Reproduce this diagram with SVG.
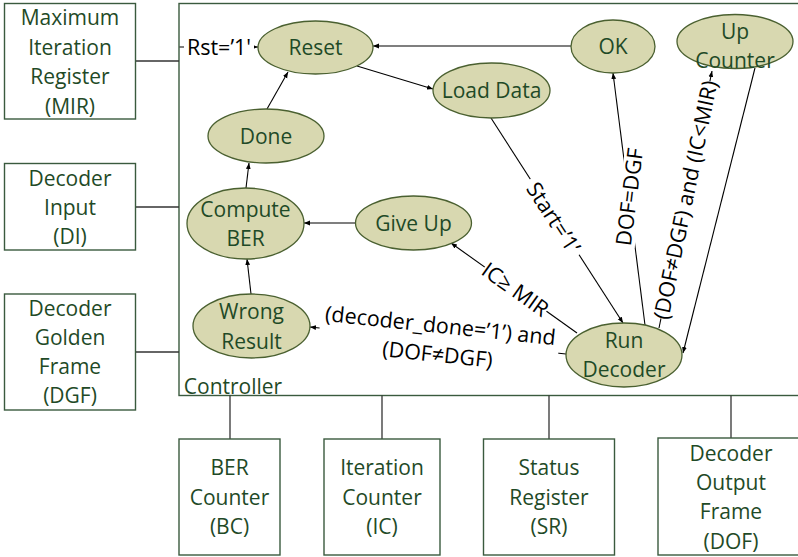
<svg xmlns="http://www.w3.org/2000/svg" width="798" height="557" viewBox="0 0 798 557">
<defs>
<marker id="arr" viewBox="0 0 10 10" refX="10" refY="5" markerWidth="6" markerHeight="6" orient="auto" markerUnits="userSpaceOnUse">
<path d="M0,1 L10,5 L0,9 z" fill="#000"/>
</marker>
<style>
.box{fill:#fff;stroke:#3a5a3e;stroke-width:1.4}
.st{fill:#d8d8b0;stroke:#4a6030;stroke-width:1.3}
.t{font-family:"Open Sans","Liberation Sans",sans-serif;font-size:21px;fill:#1f4a27;text-anchor:middle}
.lb{font-family:"Open Sans","Liberation Sans",sans-serif;font-size:21.5px;fill:#000;text-anchor:middle}
.wire{stroke:#333;stroke-width:1.3;fill:none}
.edge{stroke:#000;stroke-width:1.1;fill:none;marker-end:url(#arr)}
.bg{fill:#fff}
</style>
</defs>
<rect width="798" height="557" fill="#fff"/>

<g id="controller">
<rect class="box" x="179" y="3.5" width="640" height="392"/>
<text class="t" x="233" y="394">Controller</text>
</g>

<g id="connectors">
<line class="wire" x1="135" y1="61" x2="179" y2="61"/>
<line class="wire" x1="135" y1="207" x2="179" y2="207"/>
<line class="wire" x1="135" y1="352" x2="179" y2="352"/>
<line class="wire" x1="230" y1="395.5" x2="230" y2="439"/>
<line class="wire" x1="382" y1="395.5" x2="382" y2="439"/>
<line class="wire" x1="549" y1="395.5" x2="549" y2="439"/>
<line class="wire" x1="731" y1="395.5" x2="731" y2="438"/>

<line class="edge" x1="179.5" y1="47" x2="258" y2="47"/>
<line class="edge" x1="571" y1="46" x2="373" y2="46"/>
<line class="edge" x1="357" y1="66" x2="433" y2="89"/>
<line class="edge" x1="267" y1="109" x2="288" y2="72"/>
<line class="edge" x1="246" y1="188" x2="249" y2="163"/>
<line class="edge" x1="356" y1="223" x2="304" y2="223"/>
<line class="edge" x1="251" y1="294" x2="247" y2="259"/>
<line class="edge" x1="491" y1="118" x2="623" y2="323"/>
<line class="edge" x1="645" y1="325" x2="613" y2="73"/>
<line class="edge" x1="659" y1="328" x2="712" y2="71"/>
<line class="edge" x1="755" y1="68" x2="683" y2="353"/>
<line class="edge" x1="577" y1="333" x2="451" y2="243"/>
<line class="edge" x1="566" y1="354" x2="310" y2="327"/>

<g>
<rect class="bg" x="184" y="36" width="70" height="24"/>
<text class="lb" x="219" y="55">Rst=’1'</text>
</g>
<g transform="translate(553,218) rotate(57)">
<rect class="bg" x="-45" y="-11" width="90" height="22"/>
<text class="lb" x="0" y="7">Start=’1’</text>
</g>
<g transform="translate(630,197) rotate(-82.8)">
<rect class="bg" x="-50" y="-11" width="100" height="22"/>
<text class="lb" x="0" y="7">DOF=DGF</text>
</g>
<g transform="translate(686,200) rotate(-78.3)">
<rect class="bg" x="-121" y="-11" width="242" height="22"/>
<text class="lb" x="0" y="7">(DOF≠DGF) and (IC&lt;MIR)</text>
</g>
<g transform="translate(515,290) rotate(35.5)">
<rect class="bg" x="-38" y="-11" width="76" height="22"/>
<text class="lb" x="0" y="7">IC≥ MIR</text>
</g>
<g transform="translate(439,340) rotate(6)">
<rect class="bg" x="-120" y="-30" width="240" height="60"/>
<text class="lb" x="0" y="-7">(decoder_done=’1’) and</text>
<text class="lb" x="0" y="22">(DOF≠DGF)</text>
</g>
</g>

<g id="mir">
<rect class="box" x="4.5" y="3.5" width="131" height="115.5"/>
<text class="t" x="70" y="25">Maximum</text>
<text class="t" x="70" y="55">Iteration</text>
<text class="t" x="70" y="84">Register</text>
<text class="t" x="70" y="114">(MIR)</text>
</g>
<g id="di">
<rect class="box" x="4.5" y="163.5" width="131" height="86.5"/>
<text class="t" x="70" y="186">Decoder</text>
<text class="t" x="70" y="215">Input</text>
<text class="t" x="70" y="244">(DI)</text>
</g>
<g id="dgf">
<rect class="box" x="4.5" y="294" width="131" height="116"/>
<text class="t" x="70" y="316">Decoder</text>
<text class="t" x="70" y="345">Golden</text>
<text class="t" x="70" y="374">Frame</text>
<text class="t" x="70" y="403">(DGF)</text>
</g>
<g id="bc">
<rect class="box" x="179" y="439" width="101" height="116"/>
<text class="t" x="229.5" y="475">BER</text>
<text class="t" x="229.5" y="505">Counter</text>
<text class="t" x="229.5" y="534">(BC)</text>
</g>
<g id="ic">
<rect class="box" x="324" y="439" width="116" height="116"/>
<text class="t" x="382" y="475">Iteration</text>
<text class="t" x="382" y="505">Counter</text>
<text class="t" x="382" y="534">(IC)</text>
</g>
<g id="sr">
<rect class="box" x="483.5" y="439" width="131" height="116"/>
<text class="t" x="549" y="475">Status</text>
<text class="t" x="549" y="505">Register</text>
<text class="t" x="549" y="534">(SR)</text>
</g>
<g id="dof">
<rect class="box" x="658" y="438" width="160" height="117"/>
<text class="t" x="731" y="461">Decoder</text>
<text class="t" x="731" y="490">Output</text>
<text class="t" x="731" y="519">Frame</text>
<text class="t" x="731" y="549">(DOF)</text>
</g>

<g id="reset">
<ellipse class="st" cx="315.5" cy="47.5" rx="57.5" ry="26.5"/>
<text class="t" x="315.5" y="55">Reset</text>
</g>
<g id="done">
<ellipse class="st" cx="266" cy="136" rx="58" ry="27"/>
<text class="t" x="266" y="143.5">Done</text>
</g>
<g id="compute-ber">
<ellipse class="st" cx="245.5" cy="223.5" rx="58.5" ry="35.5"/>
<text class="t" x="245.5" y="217">Compute</text>
<text class="t" x="245.5" y="245.5">BER</text>
</g>
<g id="give-up">
<ellipse class="st" cx="413.5" cy="223" rx="58" ry="27"/>
<text class="t" x="413.5" y="231">Give Up</text>
</g>
<g id="wrong-result">
<ellipse class="st" cx="251.5" cy="326" rx="58.5" ry="32"/>
<text class="t" x="251.5" y="319">Wrong</text>
<text class="t" x="251.5" y="349">Result</text>
</g>
<g id="load-data">
<ellipse class="st" cx="491.5" cy="90.5" rx="58.5" ry="27.5"/>
<text class="t" x="491.5" y="98">Load Data</text>
</g>
<g id="ok">
<ellipse class="st" cx="613" cy="46.5" rx="42" ry="26.5"/>
<text class="t" x="613" y="54">OK</text>
</g>
<g id="up-counter">
<ellipse class="st" cx="735" cy="41.5" rx="58" ry="27"/>
<text class="t" x="735" y="39">Up</text>
<text class="t" x="735" y="68">Counter</text>
</g>
<g id="run-decoder">
<ellipse class="st" cx="624" cy="355" rx="58" ry="32"/>
<text class="t" x="624" y="348">Run</text>
<text class="t" x="624" y="377">Decoder</text>
</g>
</svg>
